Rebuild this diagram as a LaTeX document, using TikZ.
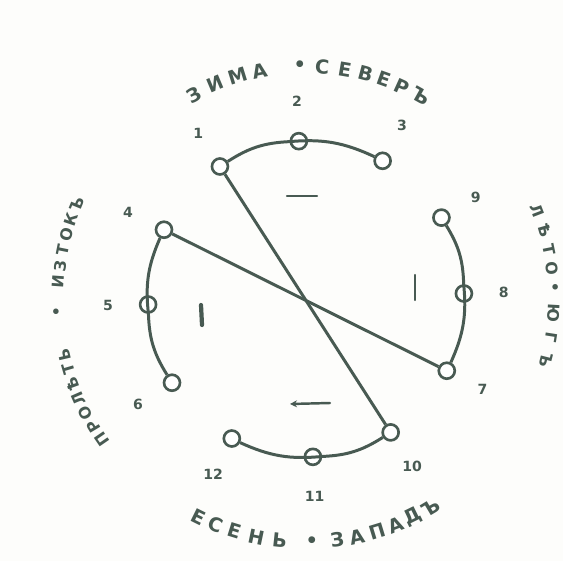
\documentclass[tikz,border=0pt]{standalone}
\usepackage{fontspec}
\usepackage{tikz}
\usetikzlibrary{arrows.meta}
\newfontfamily\inkfont{DejaVu Sans}
\definecolor{inkGreen}{RGB}{72,90,82}
\definecolor{paperWhite}{RGB}{253,253,251}

\begin{document}
\begin{tikzpicture}[x=0.02cm,y=0.02cm,
  month/.style={circle,draw=inkGreen,fill=white,line width=1.5pt,
                minimum size=0.32cm,inner sep=0pt},
  num/.style={font=\inkfont\bfseries\fontsize{8}{8}\selectfont,text=inkGreen,inner sep=0pt},
  arm/.style={draw=inkGreen,line width=1.7pt},
  bigword/.style={font=\inkfont\bfseries\fontsize{11}{11}\selectfont,text=inkGreen,inner sep=0pt},
  smallword/.style={font=\inkfont\bfseries\fontsize{9}{9}\selectfont,text=inkGreen,inner sep=0pt},
  tick/.style={draw=inkGreen,line width=1.4pt,line cap=round}
]
\useasboundingbox[fill=paperWhite] (-306,-262) rectangle (257,299);

% Months on the wheel
\foreach \i/\a in {1/123,2/92.6,3/61,4/154,5/182,6/212,
                   7/-27,8/2,9/31,10/-57.6,11/-87.5,12/-118} {
  \node[month] (m\i) at (\a:158) {};
  \node[num] (n\i) at (\a:198) {\i};
}

% Crossing lines
\draw[arm] (m1) -- (m10);
\draw[arm] (m4) -- (m7);

% Arms
\draw[arm] (m1) to[bend left=15] (m2) to[bend left=15] (m3);
\draw[arm] (m6) to[bend left=15] (m5) to[bend left=15] (m4);
\draw[arm] (m9) to[bend left=15] (m8) to[bend left=15] (m7);
\draw[arm] (m10) to[bend left=15] (m11) to[bend left=15] (m12);

% Short marks inside
\draw[tick] (-19,103) -- (11,103);
\draw[tick] (109,24) -- (109,-1);
\draw[tick,{Stealth[length=4pt,width=4pt]}-] (-16,-105) -- (24,-104);
\draw[tick,line width=2.4pt] (-105,-6) -- (-104,-26);

% Seasons and quarters
\foreach \a/\ch [count=\k] in {118.8/З,112.8/И,107.1/М,101.5/А,91.5/•,86/С,
                               80.4/Е,75.2/В,70.4/Е,65.6/Р,60.6/Ъ}
  \node[bigword,rotate=\a-90] (top\k) at (\a:233) {\ch};
\foreach \a/\ch [count=\k] in {-116.3/Е,-111.8/С,-107.2/Е,-101.8/Н,-96.2/Ь,-88.6/•,
                               -82.6/З,-77.9/А,-73/П,-68.4/А,-63.9/Д,-59.2/Ъ}
  \node[bigword,rotate=\a+90] (bot\k) at (\a:243) {\ch};
\foreach \a/\ch [count=\k] in {214.5/П,211/Р,207.3/О,203.7/Л,200/Ѣ,196.4/Т,193/Ь,
                               183/•,176/И,172.3/З,168.6/Т,165/О,161.3/К,157.6/Ъ}
  \node[smallword,rotate=\a-90] (left\k) at (\a:248) {\ch};
\foreach \a/\ch [count=\k] in {21/Л,16/Ѣ,11.5/Т,7/О,2.8/•,-3.3/Ю,-9/Г,-14.2/Ъ}
  \node[smallword,rotate=\a-90] (right\k) at (\a:248) {\ch};
\end{tikzpicture}
\end{document}
